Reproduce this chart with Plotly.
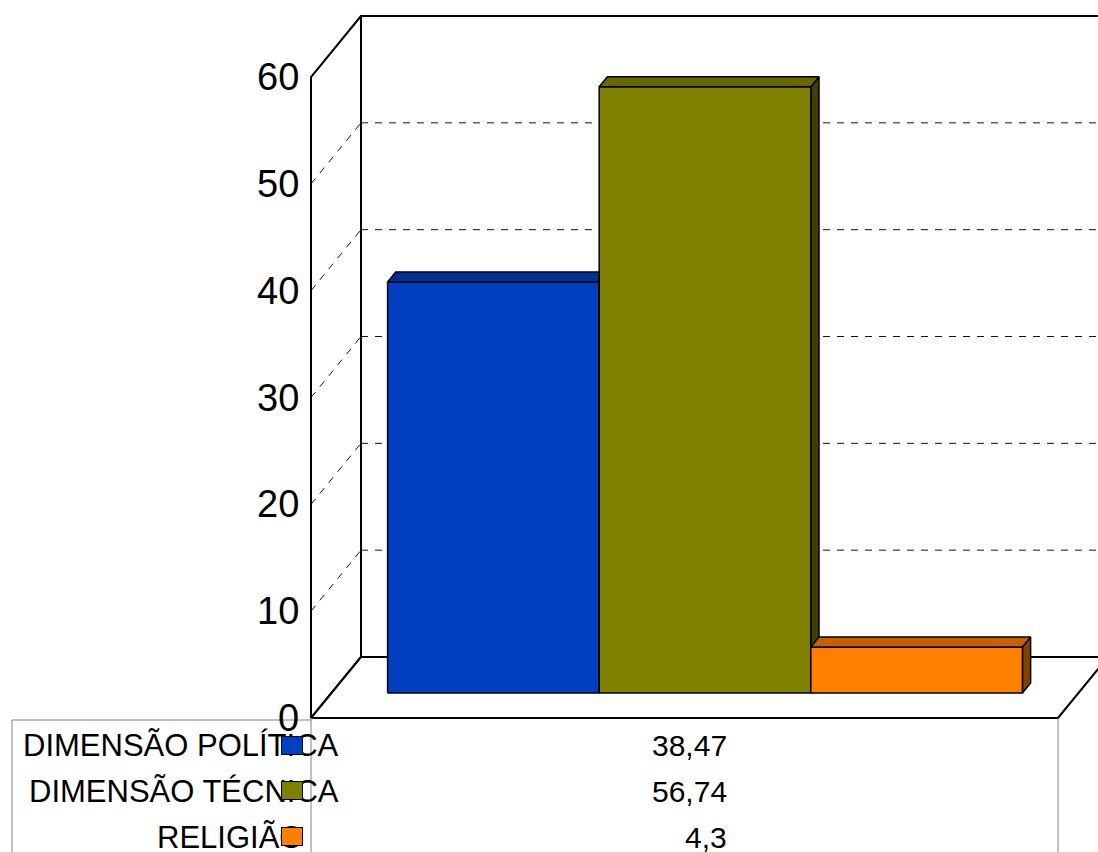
import plotly.graph_objects as go

# Series shown in the chart and in the data table below it
series_names = ["DIMENSÃO POLÍTICA", "DIMENSÃO TÉCNICA", "RELIGIÃO"]
series_values = [38.47, 56.74, 4.3]
value_labels = ["38,47", "56,74", "4,3"]
y_ticks = [0, 10, 20, 30, 40, 50, 60]

front_colors = ["rgb(0,64,192)", "rgb(128,128,0)", "rgb(255,128,0)"]
top_colors = ["rgb(0,48,150)", "rgb(104,104,0)", "rgb(196,98,0)"]
side_colors = ["rgb(0,32,100)", "rgb(64,64,0)", "rgb(130,66,0)"]

W, H = 1098, 852
Y_MAX = 60

# Oblique 3D projection: depth d in [0, 1] shifts right and up
DEPTH_X = 50 / 747
DEPTH_Y = 61 / (641 / 60)
BAR_D0, BAR_D1 = 0.41, 0.574
GAP_RATIO = 0.53
BAR_W = 1 / (len(series_values) + GAP_RATIO)
GAP = (1 - BAR_W * len(series_values)) / 2


def proj(x, v, d):
    return x + d * DEPTH_X, v + d * DEPTH_Y


def poly(points):
    pts = [proj(*p) for p in points]
    pts.append(pts[0])
    return [p[0] for p in pts], [p[1] for p in pts]


def px(xp):
    return xp / W


def py(yp):
    return 1 - yp / H


fig = go.Figure()


def add_poly(points, fill, line_color="black", width=2.0):
    xs, ys = poly(points)
    fig.add_trace(go.Scatter(
        x=xs, y=ys, mode="lines", fill="toself", fillcolor=fill,
        line=dict(color=line_color, width=width), hoverinfo="skip",
        showlegend=False))


def add_line(p0, p1, color, width, dash=None):
    a, b = proj(*p0), proj(*p1)
    fig.add_trace(go.Scatter(
        x=[a[0], b[0]], y=[a[1], b[1]], mode="lines",
        line=dict(color=color, width=width, dash=dash),
        hoverinfo="skip", showlegend=False))


# Walls and floor
add_poly([(0, 0, 1), (1, 0, 1), (1, Y_MAX, 1), (0, Y_MAX, 1)], "white")
add_poly([(0, 0, 0), (0, 0, 1), (0, Y_MAX, 1), (0, Y_MAX, 0)], "white")
add_poly([(0, 0, 0), (1, 0, 0), (1, 0, 1), (0, 0, 1)], "white")

# Dashed gridlines on the left and back walls
for t in y_ticks[1:-1]:
    add_line((0, t, 0), (0, t, 1), "rgb(20,20,20)", 1, "7px,7px")
    add_line((0, t, 1), (1, t, 1), "rgb(20,20,20)", 1, "7px,7px")

# 3D bars: front, top and right side faces
for i, v in enumerate(series_values):
    x0 = GAP + i * BAR_W
    x1 = x0 + BAR_W
    add_poly([(x1, 0, BAR_D0), (x1, 0, BAR_D1), (x1, v, BAR_D1), (x1, v, BAR_D0)],
             side_colors[i], width=1.5)
    add_poly([(x0, 0, BAR_D0), (x1, 0, BAR_D0), (x1, v, BAR_D0), (x0, v, BAR_D0)],
             front_colors[i], width=1.5)
    add_poly([(x0, v, BAR_D0), (x1, v, BAR_D0), (x1, v, BAR_D1), (x0, v, BAR_D1)],
             top_colors[i], width=1.5)

annotations = []

# Value axis labels
for t in y_ticks:
    annotations.append(dict(
        x=px(301), y=t, xref="paper", yref="y", text=str(t), showarrow=False,
        xanchor="right", yanchor="middle",
        font=dict(family="Liberation Sans, Arial", size=38, color="black")))

# Data table rows
row_y = [745, 791, 837]
name_right = [341, 341, 305]
for i, name in enumerate(series_names):
    annotations.append(dict(
        x=px(name_right[i]), y=py(row_y[i]), xref="paper", yref="paper",
        text=name, showarrow=False, xanchor="right", yanchor="middle",
        font=dict(family="Liberation Sans, Arial", size=31, color="black")))
    annotations.append(dict(
        x=px(729), y=py(row_y[i]), xref="paper", yref="paper",
        text=value_labels[i], showarrow=False, xanchor="right", yanchor="middle",
        font=dict(family="Liberation Sans, Arial", size=30, color="black")))

# Legend keys drawn over the row labels
key_y = [745, 790, 836]
for i in range(len(series_names)):
    annotations.append(dict(
        x=px(292), y=py(key_y[i]), xref="paper", yref="paper", text=" ",
        showarrow=False, xanchor="center", yanchor="middle",
        width=20, height=17, bgcolor=front_colors[i], bordercolor="black",
        borderwidth=1, borderpad=0, font=dict(size=10)))

# Data table borders
gray = "rgb(128,128,128)"
shapes = [
    dict(type="line", xref="paper", yref="paper", x0=px(12), x1=px(12),
         y0=py(720), y1=py(852), line=dict(color=gray, width=1)),
    dict(type="line", xref="paper", yref="paper", x0=px(12), x1=px(311),
         y0=py(720), y1=py(720), line=dict(color=gray, width=1)),
    dict(type="line", xref="paper", yref="paper", x0=px(311), x1=px(311),
         y0=py(718), y1=py(852), line=dict(color=gray, width=1)),
    dict(type="line", xref="paper", yref="paper", x0=px(1058), x1=px(1058),
         y0=py(718), y1=py(852), line=dict(color=gray, width=1)),
]

px_per_unit = 641 / 60
fig.update_layout(
    width=W, height=H,
    margin=dict(l=0, r=0, t=0, b=0, pad=0),
    paper_bgcolor="white", plot_bgcolor="white",
    xaxis=dict(range=[-311 / 747, (W - 311) / 747], visible=False, fixedrange=True),
    yaxis=dict(range=[-(H - 718) / px_per_unit, 718 / px_per_unit],
               visible=False, fixedrange=True),
    annotations=annotations, shapes=shapes, showlegend=False,
)

fig.write_html("out.html", config={"displayModeBar": False})
